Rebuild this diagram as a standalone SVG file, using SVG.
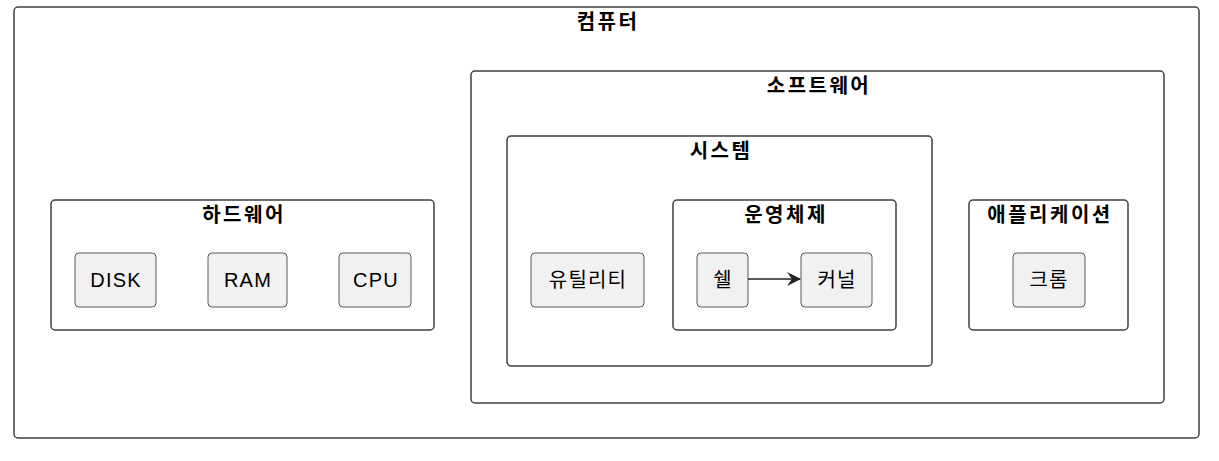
<svg xmlns="http://www.w3.org/2000/svg" width="1219" height="461" viewBox="0 0 1219 461">
<style>
.frame{fill:none;stroke:#404040;stroke-width:1.5}
.node{fill:#F1F1F1;stroke:#5a5a5a;stroke-width:1}
.title{font-family:"Liberation Sans","Noto Sans CJK KR",sans-serif;font-size:20px;font-weight:bold;fill:#000;text-anchor:middle;letter-spacing:2.5px}
.label{font-family:"Liberation Sans","Noto Sans CJK KR",sans-serif;font-size:20px;fill:#000;text-anchor:middle;letter-spacing:1.2px}
.edge{stroke:#222;stroke-width:1.5;fill:none}
</style>
<defs>
<marker id="arr" viewBox="0 0 14 14" refX="13" refY="7" markerWidth="14" markerHeight="14" markerUnits="userSpaceOnUse" orient="auto">
<path d="M0,0 L14,7 L0,14 L5,7 Z" fill="#222"/>
</marker>
</defs>
<rect width="1219" height="461" fill="#fff"/>
<g id="computer"><rect class="frame" x="14" y="7" width="1185" height="431" rx="4"/><text class="title" x="608" y="29">컴퓨터</text></g>
<g id="hardware"><rect class="frame" x="51" y="200" width="383" height="130" rx="4"/><text class="title" x="244" y="222">하드웨어</text></g>
<g id="software"><rect class="frame" x="471" y="71" width="693" height="332" rx="4"/><text class="title" x="819" y="93">소프트웨어</text></g>
<g id="system"><rect class="frame" x="507" y="136" width="425" height="230" rx="4"/><text class="title" x="721" y="158">시스템</text></g>
<g id="os"><rect class="frame" x="673" y="200" width="223" height="130" rx="4"/><text class="title" x="786" y="222">운영체제</text></g>
<g id="application"><rect class="frame" x="969" y="200" width="159" height="130" rx="4"/><text class="title" x="1050" y="222">애플리케이션</text></g>
<g id="disk"><rect class="node" x="75" y="253" width="81" height="54" rx="4"/><text class="label" x="116" y="287">DISK</text></g>
<g id="ram"><rect class="node" x="208" y="253" width="79" height="54" rx="4"/><text class="label" x="248" y="287">RAM</text></g>
<g id="cpu"><rect class="node" x="339" y="253" width="72" height="54" rx="4"/><text class="label" x="376" y="287">CPU</text></g>
<g id="utility"><rect class="node" x="531" y="253" width="113" height="54" rx="4"/><text class="label" x="588" y="287">유틸리티</text></g>
<g id="shell"><rect class="node" x="697" y="253" width="51" height="54" rx="4"/><text class="label" x="723" y="287">쉘</text></g>
<g id="kernel"><rect class="node" x="801" y="253" width="71" height="54" rx="4"/><text class="label" x="837" y="287">커널</text></g>
<g id="chrome"><rect class="node" x="1013" y="253" width="72" height="54" rx="4"/><text class="label" x="1049" y="287">크롬</text></g>
<g id="connectors"><path class="edge" d="M748,279 L800,279" marker-end="url(#arr)"/></g>
</svg>
